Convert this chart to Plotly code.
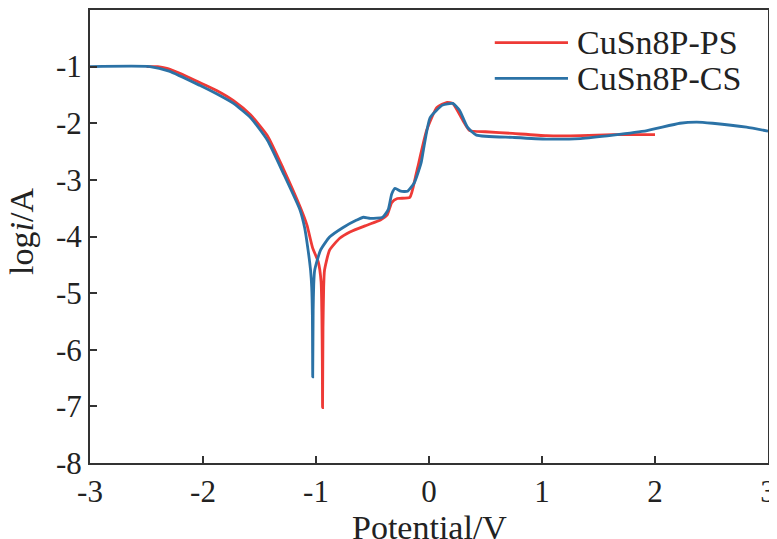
import plotly.graph_objects as go

# CuSn8P-PS polarization curve (red)
ps_potential = [-2.5, -2.4, -2.32, -2.2, -2.03, -1.88, -1.73, -1.58, -1.43, -1.29,
                -1.14, -1.08, -1.03, -0.98, -0.955, -0.948, -0.944, -0.942,
                -0.938, -0.932, -0.925, -0.88, -0.79, -0.70, -0.55, -0.43, -0.37,
                -0.33, -0.28, -0.17, -0.12, -0.10, -0.02, 0.07, 0.16, 0.21, 0.30,
                0.36, 0.5, 0.74, 1.04, 1.34, 1.63, 2.0]
ps_logi = [-1.0, -1.0, -1.03, -1.12, -1.28, -1.42, -1.6, -1.85, -2.22, -2.8,
           -3.48, -3.8, -4.2, -4.45, -4.8, -5.4, -6.2, -7.02,
           -5.6, -4.9, -4.6, -4.24, -4.03, -3.92, -3.8, -3.71, -3.62,
           -3.4, -3.33, -3.31, -2.95, -2.78, -2.12, -1.72, -1.63, -1.65, -1.95,
           -2.13, -2.15, -2.18, -2.22, -2.22, -2.2, -2.2]

# CuSn8P-CS polarization curve (blue)
cs_potential = [-3.0, -2.47, -2.3, -2.03, -1.88, -1.73, -1.58, -1.43, -1.29, -1.14,
                -1.10, -1.07, -1.048, -1.038, -1.032, -1.029,
                -1.025, -1.02, -1.012, -0.96, -0.88, -0.76, -0.64, -0.58, -0.52,
                -0.41, -0.36, -0.33, -0.30, -0.25, -0.19, -0.13, -0.07, -0.05, 0.01,
                0.12, 0.21, 0.27, 0.34, 0.42, 0.74, 1.04, 1.34, 1.63, 1.93,
                2.22, 2.37, 2.51, 2.81, 3.0]
cs_logi = [-1.0, -1.0, -1.08, -1.33, -1.48, -1.65, -1.9, -2.3, -2.88, -3.54,
           -3.85, -4.24, -4.6, -4.9, -5.4, -6.48,
           -5.3, -4.85, -4.6, -4.24, -4.01, -3.84, -3.71, -3.66, -3.68,
           -3.66, -3.52, -3.25, -3.15, -3.2, -3.2, -3.05, -2.7, -2.48, -1.9,
           -1.68, -1.65, -1.77, -2.07, -2.21, -2.25, -2.28, -2.27, -2.21, -2.13,
           -2.0, -1.98, -2.0, -2.07, -2.14]

x_ticks = [-3, -2, -1, 0, 1, 2, 3]
x_tick_labels = ["-3", "-2", "-1", "0", "1", "2", "3"]
y_ticks = [0, -1, -2, -3, -4, -5, -6, -7, -8]
y_tick_labels = ["0", "-1", "-2", "-3", "-4", "-5", "-6", "-7", "-8"]

series_names = ["CuSn8P-PS", "CuSn8P-CS"]
series_colors = ["#ee3a36", "#2b72a6"]

FONT = "Liberation Serif, Times New Roman, Times, serif"

fig = go.Figure()
fig.add_trace(go.Scatter(x=ps_potential, y=ps_logi, mode='lines', name=series_names[0],
                         line=dict(color=series_colors[0], width=2.8, shape='spline', smoothing=0.5)))
fig.add_trace(go.Scatter(x=cs_potential, y=cs_logi, mode='lines', name=series_names[1],
                         line=dict(color=series_colors[1], width=2.8, shape='spline', smoothing=0.5)))

axis_style = dict(showline=True, mirror=True, linecolor='#333333', linewidth=2,
                  ticks='inside', ticklen=7, tickwidth=1.5, tickcolor='#333333',
                  showgrid=False, zeroline=False, automargin=False,
                  tickfont=dict(family=FONT, size=31, color='#222222'))

fig.update_xaxes(range=[-3, 3], tickvals=x_ticks, ticktext=x_tick_labels, **axis_style)
fig.update_yaxes(range=[-8, 0], tickvals=y_ticks, ticktext=y_tick_labels, **axis_style)

# hand-drawn legend, as in the reference (long line samples, no box)
for i, (name, color) in enumerate(zip(series_names, series_colors)):
    yy = 0.928 - i * 0.079
    fig.add_shape(type='line', xref='paper', yref='paper', x0=0.597, x1=0.705, y0=yy, y1=yy,
                  line=dict(color=color, width=2.8))
    fig.add_annotation(xref='paper', yref='paper', x=0.716, y=yy, text=name, showarrow=False,
                       xanchor='left', yanchor='middle',
                       font=dict(family=FONT, size=34, color='#222222'))

# axis titles
fig.add_annotation(xref='paper', yref='paper', x=0.5, y=-0.097, text="Potential/V",
                   showarrow=False, xanchor='center', yanchor='top',
                   font=dict(family=FONT, size=34, color='#222222'))
fig.add_annotation(xref='paper', yref='paper', x=-0.102, y=0.512, text="log<i>i</i>/A",
                   showarrow=False, xanchor='center', yanchor='middle', textangle=-90,
                   font=dict(family=FONT, size=34, color='#222222'))

# the page body has an 8px margin, so the figure is a bit smaller than the window
fig.update_layout(width=769, height=531, showlegend=False,
                  margin=dict(l=82, r=9, t=2, b=76),
                  paper_bgcolor='white', plot_bgcolor='white')

fig.write_html("out.html")
